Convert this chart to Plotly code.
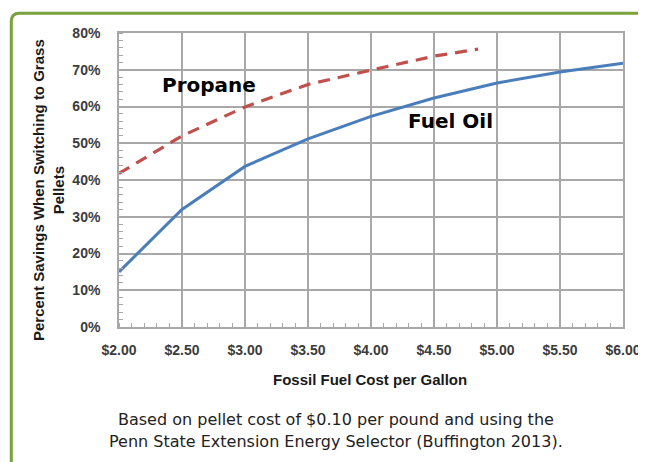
import plotly.graph_objects as go

# ---- data ----
fuel_oil_cost = [2.0, 2.5, 3.0, 3.5, 4.0, 4.5, 5.0, 5.5, 6.0]
fuel_oil_savings = [15.0, 32.0, 43.7, 51.2, 57.3, 62.3, 66.4, 69.4, 71.8]

propane_cost = [2.0, 2.5, 3.0, 3.5, 4.0, 4.5, 4.85]
propane_savings = [41.8, 52.0, 59.9, 66.0, 69.9, 73.7, 75.6]

x_ticks = [2.0, 2.5, 3.0, 3.5, 4.0, 4.5, 5.0, 5.5, 6.0]
x_tick_labels = ["$2.00", "$2.50", "$3.00", "$3.50", "$4.00", "$4.50", "$5.00", "$5.50", "$6.00"]
y_ticks = [0, 10, 20, 30, 40, 50, 60, 70, 80]
y_tick_labels = ["0%", "10%", "20%", "30%", "40%", "50%", "60%", "70%", "80%"]

# page has an 8px body margin, so the figure is placed at (8, 8)
OFF = 8
W, H = 638, 454
PW, PH = 504, 294
L, T = 119 - OFF, 33 - OFF
R, B = W - L - PW, H - T - PH


def px(x):
    return (x - OFF - L) / PW


def py(y):
    return (T + PH - (y - OFF)) / PH


fig = go.Figure()
fig.add_trace(go.Scatter(
    x=fuel_oil_cost, y=fuel_oil_savings, mode="lines", name="Fuel Oil",
    line=dict(color="#4a7ebb", width=3), showlegend=False, hoverinfo="skip"))
fig.add_trace(go.Scatter(
    x=propane_cost, y=propane_savings, mode="lines", name="Propane",
    line=dict(color="#c0504d", width=3.2, dash="12px,8px"), showlegend=False,
    hoverinfo="skip"))

tick_font = dict(family="Liberation Sans, Arial, sans-serif", size=14, color="#3c3c3c", weight="bold")
grid = "#a8a8a8"

fig.update_xaxes(
    range=[2, 6], tickmode="array", tickvals=x_ticks, ticktext=x_tick_labels,
    showgrid=True, gridcolor=grid, gridwidth=1.6, zeroline=False,
    showline=True, linecolor=grid, linewidth=1.6, mirror=True,
    ticks="", tickfont=tick_font, ticklabelstandoff=9,
    minor=dict(dtick=0.1, ticks="inside", ticklen=4, tickcolor=grid, tickwidth=1, showgrid=False),
    fixedrange=True)
fig.update_yaxes(
    range=[0, 80], tickmode="array", tickvals=y_ticks, ticktext=y_tick_labels,
    showgrid=True, gridcolor=grid, gridwidth=1.6, zeroline=False,
    showline=True, linecolor=grid, linewidth=1.6, mirror=True,
    ticks="", tickfont=tick_font, ticklabelstandoff=14,
    minor=dict(dtick=2, ticks="inside", ticklen=4, tickcolor=grid, tickwidth=1, showgrid=False),
    fixedrange=True)

label_font = dict(family="DejaVu Sans, sans-serif", size=20, color="#000000", weight="bold")
fig.add_annotation(x=2.714, y=65.9, text="Propane", showarrow=False, font=label_font)
fig.add_annotation(x=4.627, y=56.1, text="Fuel Oil", showarrow=False, font=label_font)

xt_font = dict(family="Liberation Sans, Arial, sans-serif", size=15, color="#1a1a1a", weight="bold")
yt_font = dict(family="Liberation Sans, Arial, sans-serif", size=15, color="#1a1a1a", weight="bold")
fig.add_annotation(xref="paper", yref="paper", x=px(370), y=py(379),
                   xanchor="center", yanchor="middle",
                   text="Fossil Fuel Cost per Gallon", showarrow=False, font=xt_font)
fig.add_annotation(xref="paper", yref="paper", x=px(48), y=py(190), textangle=-90,
                   xanchor="center", yanchor="middle",
                   text="Percent Savings When Switching to Grass<br>Pellets",
                   showarrow=False, font=yt_font)

cap_font = dict(family="DejaVu Sans, sans-serif", size=16, color="#222222")
fig.add_annotation(xref="paper", yref="paper", x=px(336), y=py(419),
                   xanchor="center", yanchor="middle",
                   text="Based on pellet cost of $0.10 per pound and using the",
                   showarrow=False, font=cap_font)
fig.add_annotation(xref="paper", yref="paper", x=px(336), y=py(442),
                   xanchor="center", yanchor="middle",
                   text="Penn State Extension Energy Selector (Buffington 2013).",
                   showarrow=False, font=cap_font)

# green rounded frame (top-left corner visible)
bx, by, rad = 11.3, 13.3, 8
path = (f"M {px(bx)},{py(480)} L {px(bx)},{py(by + rad)} "
        f"Q {px(bx)},{py(by)} {px(bx + rad)},{py(by)} L {px(670)},{py(by)}")
fig.add_shape(type="path", xref="paper", yref="paper", path=path,
              line=dict(color="#7ba23f", width=3), layer="above")

fig.update_layout(
    width=W, height=H, margin=dict(l=L, r=R, t=T, b=B, autoexpand=False),
    paper_bgcolor="white", plot_bgcolor="white", showlegend=False)

fig.write_html("out.html")
